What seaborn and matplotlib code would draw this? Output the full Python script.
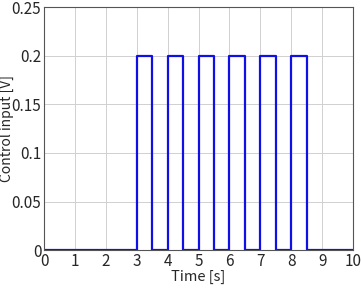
import matplotlib
matplotlib.use('Agg')
import matplotlib.pyplot as plt
import seaborn as sns
import pandas as pd

# switching instants [s] and the control input held from each instant [V]
time_s = [0, 3, 3.5, 4, 4.5, 5, 5.5, 6, 6.5, 7, 7.5, 8, 8.5, 10]
control_v = [0, 0.2, 0, 0.2, 0, 0.2, 0, 0.2, 0, 0.2, 0, 0.2, 0, 0]

x_ticks = [0, 1, 2, 3, 4, 5, 6, 7, 8, 9, 10]
y_ticks = [0, 0.05, 0.1, 0.15, 0.2, 0.25]
y_tick_labels = ['0', '0.05', '0.1', '0.15', '0.2', '0.25']

df = pd.DataFrame({'time': time_s, 'u': control_v})

sns.set_style('whitegrid')
plt.rcParams['font.family'] = ['Noto Sans CJK JP', 'DejaVu Sans']

fig = plt.figure(figsize=(3.61, 2.96), dpi=100)
ax = fig.add_axes([0.122, 0.155, 0.856, 0.821])

sns.lineplot(
    data=df,
    x='time',
    y='u',
    drawstyle='steps-post',
    color='#1010e6',
    linewidth=1.6,
    ax=ax
)

ax.set_xlim(0, 10)
ax.set_ylim(0, 0.25)
ax.set_xticks(x_ticks)
ax.set_yticks(y_ticks)
ax.set_yticklabels(y_tick_labels)
ax.tick_params(labelsize=11, pad=2, length=0)
ax.grid(True, color='#d0d0d0', linewidth=0.7)
for s in ax.spines.values():
    s.set_visible(True)
    s.set_color('#555555')
    s.set_linewidth(0.8)

ax.set_xlabel('Time [s]', fontsize=10.5, labelpad=0)
ax.set_ylabel('Control input [V]', fontsize=10)
ax.yaxis.set_label_coords(-0.097, 0.5)

fig.savefig('out.png', dpi=100)
